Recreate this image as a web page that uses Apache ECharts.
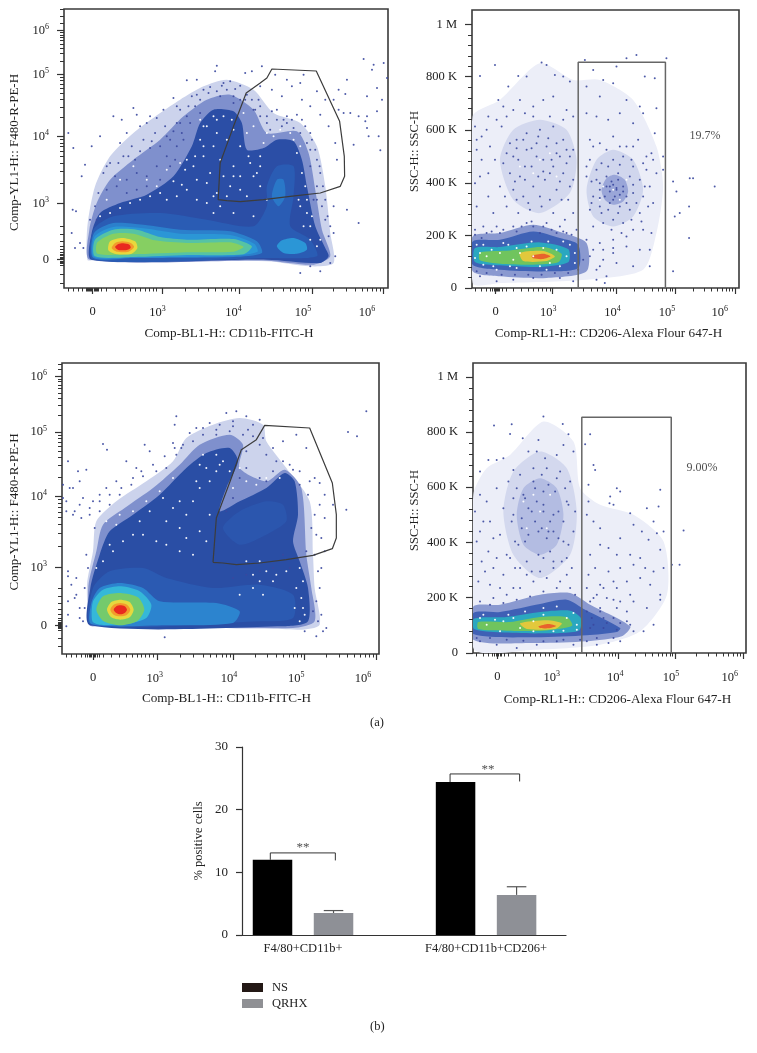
<!DOCTYPE html>
<html><head><meta charset="utf-8"><style>html,body{margin:0;background:#fff}#c{width:757px;height:1053px}</style>
<script src="https://cdn.jsdelivr.net/npm/echarts@6/dist/echarts.min.js"></script></head><body><div id="c"></div>
<script>
// Bar chart values
const groups=['F4/80+CD11b+','F4/80+CD11b+CD206+'];
const groupPos=[1,4];
const nsValues=[[0.5,12.0],[3.5,24.4]];
const qrhxValues=[[1.5,3.5],[4.5,6.4]];
const qrhxErrors=[[1.5,3.5,3.9],[4.5,6.4,7.7]];
const bracket1=[[0.464,12],[0.464,13.1],[1.53,13.1],[1.53,11.9]];
const bracket2=[[3.41,24.4],[3.41,25.7],[4.55,25.7],[4.55,24.5]];
const starMarks=[[1.0,13.9],[4.03,26.4]];
// Display-channel axes of each cytometry plot
const decadeLabels=['0','3','4','5','6'];
const ssLabels=['1 M','800 K','600 K','400 K','200 K','0'];
const xTickA=[278,485,716,935,1150], xLabA=[278,472,700,908,1100], yTickA=[93,225,410,612,780];
const xTickB=[287,457,650,827,1007], xLabB=[287,445,638,802,960], yTickB=[74,230,390,549,708,865];
const xTickC=[280,473,702,915,1130], xLabC=[280,465,688,890,1090], yTickC=[65,232,425,638,813];
const xTickD=[292,467,655,825,1030], xLabD=[292,455,645,812,988], yTickD=[66,231,397,563,729,895];
// Gates
const gateA=[[654,600],[660,490],[700,380],[738,280],[780,250],[800,235],[815,208],[948,214],[1018,365],[1032,470],[1033,530],[1020,560],[960,580],[870,590],[790,600],[720,606],[680,603],[654,600]];
const gateC=[[640,623],[650,490],[695,370],[725,285],[770,255],[795,212],[930,220],[998,385],[1010,480],[1010,550],[998,582],[940,602],[860,615],[780,625],[710,630],[670,625],[640,623]];
const gateB=[[535,865],[535,187],[797,187],[797,865]];
const gateD=[[545,895],[545,187],[813,187],[813,895]];
const pctB=[[916,407,'19.7%']], pctD=[[905,338,'9.00%']];
// Density contours: level colour, outline
const densA=[
['#ccd3ec',[[262,780],[262,680],[285,560],[330,470],[400,400],[480,340],[540,300],[610,260],[680,240],[760,270],[820,340],[900,370],[950,440],[975,560],[990,700],[1000,790],[930,800],[800,785],[280,782]]],
['#7f90cd',[[270,780],[268,690],[290,610],[330,540],[400,480],[480,420],[550,350],[620,300],[690,285],[760,330],[800,400],[890,395],[925,460],[945,570],[965,690],[990,770],[940,795],[800,783]]],
['#2b4ea6',[[275,780],[275,700],[300,640],[360,610],[440,585],[520,530],[575,440],[600,370],[640,330],[700,335],[725,370],[740,450],[790,445],[830,420],[880,425],[905,480],[920,560],[945,680],[975,745],[985,770],[960,790],[800,780]]],
['#2a5cb4',[[280,780],[280,690],[340,650],[480,640],[620,660],[760,680],[800,620],[800,560],[830,500],[880,500],[880,590],[870,680],[930,720],[950,770],[800,775]]],
['#2b80cc',[[280,775],[282,700],[340,670],[430,675],[540,690],[690,695],[770,725],[785,760],[700,772],[400,775]]],
['#2b96d6',[[282,772],[284,710],[340,682],[430,686],[540,702],[690,706],[762,732],[772,756],[700,768],[400,773]]],
['#2b96d6',[[830,740],[845,722],[880,715],[915,730],[920,750],[890,762],[850,760]]],
['#2a78c8',[[815,590],[830,540],[850,540],[855,590],[835,620]]],
['#56c3a4',[[285,770],[285,720],[340,690],[410,690],[480,712],[560,720],[700,718],[755,740],[730,764],[560,766],[400,772]]],
['#86cf62',[[292,762],[292,728],[340,702],[400,702],[465,722],[560,730],[690,728],[730,742],[700,756],[560,758],[400,764]]],
['#e9d83c',[[325,752],[330,725],[367,715],[405,725],[412,745],[395,762],[350,764]]],
['#f39a2c',[[335,745],[345,730],[367,725],[392,730],[402,742],[385,756],[350,756]]],
['#e9291f',[[345,742],[355,733],[370,731],[388,735],[392,744],[380,751],[355,751]]]];
const densC=[
['#ccd3ec',[[268,812],[262,690],[280,590],[290,500],[350,440],[440,380],[520,320],[560,250],[640,210],[720,190],[790,210],[800,260],[860,340],[930,440],[940,600],[945,700],[960,810],[900,825],[700,815],[280,815]]],
['#7f90cd',[[270,812],[266,695],[290,590],[310,510],[375,460],[460,400],[540,330],[600,270],[690,240],[730,270],[720,340],[800,380],[855,345],[905,400],[920,600],[935,700],[945,800],[880,820],[280,815]]],
['#2a4ea5',[[272,812],[272,700],[300,600],[330,530],[400,480],[480,420],[560,340],[620,295],[690,280],[715,320],[680,400],[660,470],[720,440],[800,400],[855,355],[885,380],[895,480],[880,560],[900,620],[925,700],[925,800],[850,815]]],
['#2b5ab2',[[275,810],[280,700],[330,650],[430,640],[500,670],[640,700],[780,690],[880,720],[880,790],[780,800]]],
['#2b56ae',[[670,520],[720,470],[800,440],[850,450],[860,500],[800,540],[720,570]]],
['#2c84cf',[[275,808],[275,745],[300,700],[360,685],[430,700],[480,740],[650,745],[720,770],[700,805],[500,812]]],
['#35b8d8',[[278,800],[280,740],[310,705],[365,695],[420,710],[455,750],[440,790],[380,808],[300,810]]],
['#74ca6c',[[290,765],[310,725],[362,715],[415,728],[434,765],[412,800],[362,812],[312,800]]],
['#e6d83e',[[322,765],[335,742],[362,735],[390,742],[402,765],[390,788],[362,795],[335,788]]],
['#f39a2c',[[332,765],[342,750],[362,745],[382,750],[392,765],[382,780],[362,785],[342,780]]],
['#e9291f',[[342,765],[350,755],[362,752],[375,755],[382,765],[375,775],[362,779],[350,775]]]];
const densB=[
['#eceef8',[[218,850],[218,350],[300,300],[420,190],[520,240],[600,240],[700,300],[770,440],[790,560],[770,700],[730,810],[560,840],[300,850]]],
['#d3d8ee',[[300,480],[340,390],[420,360],[500,390],[530,480],[510,580],[420,640],[340,600]]],
['#d0d6ed',[[560,570],[590,480],[640,450],[700,480],[730,570],[700,650],[640,680],[580,650]]],
['#9aa6d8',[[605,570],[620,535],[645,525],[675,540],[685,575],[670,605],[640,615],[615,600]]],
['#8a99d0',[[218,710],[300,700],[400,675],[490,700],[560,730],[560,815],[440,835],[300,830],[218,815]]],
['#3f62b6',[[218,725],[300,720],[400,695],[480,715],[535,735],[535,805],[440,815],[300,810],[218,795]]],
['#2aa7c0',[[225,745],[300,742],[420,728],[505,748],[505,788],[420,802],[300,797],[225,787]]],
['#70c45e',[[240,758],[330,752],[430,742],[485,762],[475,788],[400,795],[300,792],[240,782]]],
['#e2c83c',[[360,760],[430,754],[465,770],[440,784],[370,784]]],
['#e8622c',[[395,768],[430,762],[452,770],[430,778],[400,776]]]];
const densD=[
['#eceef8',[[220,880],[220,420],[260,340],[330,300],[430,200],[520,260],[540,400],[600,450],[700,480],[790,560],[800,720],[720,830],[600,870],[400,885]]],
['#d3d8ee',[[310,470],[340,350],[420,290],[500,340],[530,470],[510,600],[420,670],[340,600]]],
['#b3bce2',[[350,480],[370,400],[420,370],[470,400],[490,480],[470,570],[420,600],[370,570]]],
['#8a99d0',[[220,755],[300,750],[420,720],[510,715],[570,750],[690,815],[665,845],[560,860],[400,865],[220,855]]],
['#3f60b5',[[220,775],[300,772],[420,748],[500,735],[555,765],[660,820],[650,832],[560,842],[400,848],[220,838]]],
['#2aa7c0',[[222,792],[320,787],[420,772],[510,768],[542,790],[536,828],[420,836],[300,833],[222,823]]],
['#70c45e',[[235,802],[330,802],[420,787],[500,787],[516,813],[430,828],[320,828],[235,823]]],
['#e2c83c',[[360,806],[440,797],[485,806],[466,823],[380,823]]],
['#e8622c',[[415,815],[445,808],[468,814],[445,821],[420,820]]]];
// Individual events (x,y pairs)
const dotsA=[1090,178,1120,195,1115,210,1150,190,1160,235,1040,240,1035,283,1015,270,1130,265,1100,290,1145,300,1130,335,1075,350,1100,350,1095,365,1100,385,1135,410,1105,410,1140,452,1060,435,1015,330,1030,340,1050,340,205,400,220,445,218,630,228,635,245,530,255,495,275,440,300,410,340,350,365,360,400,325,410,345,440,370,470,355,520,295,530,320,560,242,590,240,650,198,645,215,690,245,670,250,755,215,785,200,735,220,720,258,240,730,225,745,250,745,215,700,1040,630,1075,670,1000,700,1005,770,990,790,960,815,930,800,
310,520,330,490,345,530,370,470,395,440,405,480,430,420,450,445,465,400,495,380,510,420,530,370,545,400,560,350,585,320,600,300,625,280,650,275,680,270,700,290,755,300,780,320,800,350,830,330,860,350,890,345,915,380,935,420,950,480,960,520,950,560,965,620,975,660,985,710,295,580,320,570,350,560,380,540,410,520,440,530,470,500,500,470,525,480,285,620,290,660,270,660,360,430,380,400,420,380,450,350,490,330,540,330,575,290,610,270,740,285,765,330,810,390,845,380,880,385,920,430,930,500,940,600,900,820,
760,330,780,350,800,370,830,360,860,370,900,400,930,450,950,600,720,300,700,310,660,290,600,340,570,370,550,420,530,440,510,500,480,540,440,560,410,570,380,580,
320,500,355,490,385,470,420,455,455,425,480,440,500,410,520,395,540,370,565,320,590,285,630,262,665,258,705,268,735,300,775,300,815,335,850,360,875,360,905,360,930,400,945,450,958,500,968,560,975,600,982,650,990,680,
1000,620,1010,480,1005,430,985,380,960,345,930,320,905,300,875,260,845,290,815,270,780,260,1000,300,975,300,950,275,900,250,860,240,825,225,910,225];
const whiteA=[620,380,650,400,680,420,700,390,640,440,610,470,660,480,700,500,630,520,590,540,560,570,530,590,500,600,620,610,650,580,690,560,720,530,750,490,770,520,780,470,740,400,760,380,800,400,840,390,870,400,600,420,585,470,555,510,520,545,480,580,450,590,420,600,390,610,360,625,330,640,640,640,700,640,760,650,900,620,920,640,930,680,910,680,895,600,905,520,880,420,820,410,790,430,730,340,670,350,640,350,610,380,560,480,545,555,590,600,660,620,680,590,740,590,780,560,800,600,930,720,950,740,915,560,
500,510,540,490,470,560,440,540,400,500,360,540,320,600,300,650,600,360,650,360,695,360,720,440,745,470,760,530,780,500,700,530,720,570,670,530,620,550,640,590,580,500,610,440,890,460,900,440,920,600,935,650,960,720];
const dotsC=[1100,170,1045,232,1072,245,1040,465,1000,450,960,385,975,420,310,268,322,285,205,320,190,390,210,400,235,350,260,345,240,380,200,440,225,470,245,490,205,665,230,670,205,740,230,720,205,780,240,790,200,815,495,848,530,185,525,210,435,270,450,290,380,320,410,340,350,380,320,400,300,420,280,440,520,265,550,270,590,220,630,205,660,210,680,175,710,170,740,185,780,195,760,210,700,200,
270,480,285,520,300,470,330,450,360,420,395,390,430,365,470,350,500,340,530,300,545,280,580,260,610,240,650,240,690,230,730,240,760,245,790,250,820,280,850,320,880,345,900,390,925,420,945,480,950,540,945,600,955,650,960,700,965,780,980,820,950,845,915,830,260,600,265,640,255,700,255,760,
740,290,780,270,800,300,830,320,870,330,900,350,930,380,960,450,935,520,920,590,740,340,780,370,820,350,720,370,700,430,800,380,680,470,850,600,870,640,820,640,780,650,740,660,700,670,
220,400,250,430,220,480,190,430,200,470,240,450,270,460,300,440,330,420,365,400,400,370,425,350,460,330,495,305,525,280,570,235,610,220,650,225,700,215,745,225,850,260,890,240,920,280,945,370,975,490,965,550,975,590,965,640,950,740,940,770,955,800,970,830,
205,650,215,690,225,730,240,760,250,800];
const whiteC=[650,350,630,380,600,400,580,440,560,480,540,520,560,550,600,530,630,480,620,560,580,600,540,590,500,570,470,560,430,540,400,540,370,560,340,590,300,470,320,500,290,470,720,340,740,380,770,390,700,400,800,370,840,370,760,660,780,680,800,650,830,660,760,700,790,720,900,640,910,680,905,730,915,780,900,800,720,720,690,350,660,330,520,370,490,430,450,470,420,500,600,330,610,300,650,300,
360,480,400,470,440,440,480,410,520,460,590,380,620,340,670,320,500,500,540,440,350,510,330,570,310,620,290,640,780,620,740,620,820,680,860,650,890,700,910,760,885,760];
const dotsB=[285,195,240,228,325,260,355,228,380,230,425,188,440,195,465,225,490,230,510,245,295,300,310,320,265,350,225,380,245,410,230,450,270,440,305,380,340,330,375,340,400,320,430,300,460,290,500,330,520,350,350,420,380,400,420,390,460,380,490,420,520,450,310,490,340,470,380,450,410,430,440,440,470,460,500,490,330,520,360,530,395,500,430,480,460,500,490,520,520,540,300,560,340,570,370,590,400,560,435,540,470,570,505,600,240,530,265,590,230,620,280,640,320,620,355,640,390,630,425,620,460,640,495,660,520,640,250,680,290,680,340,680,380,670,440,670,480,680,
555,180,580,210,610,240,650,200,680,175,710,165,735,230,765,235,800,175,560,260,600,290,640,250,680,300,720,320,770,325,560,340,590,350,625,360,660,340,700,370,730,340,765,400,570,420,600,430,640,410,680,440,715,420,755,460,790,470,570,480,605,490,640,480,670,470,700,500,740,510,770,520,790,510,560,530,590,540,620,530,655,520,690,530,720,540,750,560,580,590,600,570,630,560,650,570,670,575,700,580,730,590,760,610,570,630,600,620,630,610,660,620,690,630,720,640,580,680,610,670,640,660,670,670,700,690,730,690,755,700,560,720,600,730,640,720,680,740,720,750,750,750,570,770,610,780,650,790,700,800,750,800,590,810,620,830,
640,555,650,565,630,575,660,585,645,590,620,560,670,560,655,540,635,545,615,590,680,590,640,600,
820,545,830,575,870,535,880,535,945,560,840,640,825,650,868,620,868,715,820,815,
240,830,290,845,340,840,400,835,480,835,520,845,260,700,300,700,350,695,400,680,420,700,470,700,225,690,500,700,530,690,
590,840,615,850,
330,430,350,445,370,420,395,445,415,410,445,415,470,430,500,450,320,460,355,480,375,500,410,470,430,515,455,480,480,470,510,470,345,545,375,540,415,530,450,520,480,545,510,560,315,590,350,600,385,610,420,590,450,600,485,600,
225,550,245,480,265,520,285,480,230,420,260,390,290,360,320,350,360,300,400,350,450,350,490,360,
580,440,620,450,660,440,700,440,740,470,560,500,590,510,625,500,660,495,695,480,730,490,760,480,575,545,600,550,700,555,735,560,575,610,600,595,625,630,655,640,680,610,710,610,745,620,
605,640,635,690,665,700,695,660,725,665,640,745,680,710,610,750,580,750,550,780,600,800,640,760,
225,705,245,715,275,695,310,690,365,680,395,665,430,680,455,690,490,695,515,705,230,815,260,820,305,825,345,825,385,825,425,825,465,820,505,820,535,810];
const whiteB=[260,770,300,760,340,780,380,740,420,800,470,750,500,770,280,800,330,800,400,770,450,790,430,745,240,760,360,760,310,730,510,735,640,570,610,560,660,600,600,600,680,540,420,480,400,520,450,460,470,530,360,500,
250,735,275,750,325,735,350,745,395,725,445,725,490,725,525,760,525,790,480,800,440,810,350,805,290,810,250,795,225,775,230,735];
const dotsD=[282,212,335,208,330,237,368,250,430,185,415,255,488,207,505,238,240,350,265,315,290,315,310,310,340,345,385,290,410,290,435,310,470,300,490,270,520,290,555,268,570,238,580,330,585,345,240,420,225,470,260,440,290,400,325,380,360,360,400,340,440,340,480,350,510,380,240,530,270,500,310,460,340,430,370,420,405,400,430,410,465,410,500,440,525,470,230,560,265,590,300,540,335,500,365,490,395,470,430,470,460,480,490,500,520,530,245,620,280,640,320,600,355,570,385,540,415,530,445,530,475,550,505,570,235,680,270,690,310,660,345,640,380,620,415,600,450,590,485,620,515,640,280,730,320,720,360,700,400,680,440,670,480,680,510,700,
565,390,565,440,560,480,580,500,600,520,630,425,650,400,660,410,628,445,640,450,690,475,700,510,660,550,600,570,570,600,625,580,650,600,690,600,720,610,760,500,780,405,775,455,740,460,725,530,745,555,770,535,790,530,850,527,780,585,815,630,838,630,760,650,790,640,735,640,700,630,660,640,625,650,585,640,565,660,600,690,640,680,680,680,720,670,750,690,590,720,620,730,660,740,700,740,740,760,780,735,780,720,560,770,600,770,640,790,680,800,700,830,730,830,760,810,570,820,610,820,650,825,
240,860,290,870,350,880,410,870,470,860,520,870,560,860,590,870,625,865,660,860,
350,400,375,430,400,380,425,360,445,390,470,370,495,400,340,480,365,520,385,460,410,440,430,450,450,500,475,470,505,450,345,560,375,560,405,500,425,520,440,550,460,530,490,560,330,610,360,640,395,650,430,610,460,620,500,610,
250,500,280,550,255,650,290,610,300,700,340,700,380,660,420,650,460,640,500,660,525,720,240,740,270,750,310,745,350,735,390,725,430,710,470,700,
560,700,580,730,610,700,650,700,690,720,575,790,610,790,650,760,680,770,570,740,600,760,640,735,580,810,620,805,660,805,690,810,
230,850,270,850,320,855,370,858,430,860,490,855,540,855,590,850,640,850];
const whiteD=[260,810,310,800,360,820,400,800,460,830,500,790,530,810,240,790,340,790,430,780,420,470,380,520,450,420,400,420,440,520,370,440,
250,780,285,795,325,780,375,770,430,760,470,755,520,775,530,825,490,828,400,830,300,830];
const dotColor='#3a489e';

function logTicks(t){const r=[];for(let i=1;i<t.length-1;i++){const a=t[i],b=t[i+1];for(const k of [2,3,4,5,6,7,8,9])r.push(Math.round(a+(b-a)*Math.log10(k)));}return r;}
function linTicks(t){const r=[];for(let i=0;i<t.length-1;i++){const a=t[i],b=t[i+1];for(const k of [1,2,3,4])r.push(Math.round(a+(b-a)*k/5));}return r;}
function pairs(f){const r=[];for(let i=0;i<f.length;i+=2)r.push([f[i],f[i+1]]);return r;}
const serif="'Liberation Serif','Times New Roman',serif";
const panels=[
{g:[64,9,324,279],xr:[192,1163],yr:[28,865],xT:xTickA,xL:xLabA,yT:yTickA,log:1,xn:'Comp-BL1-H:: CD11b-FITC-H',yn:'Comp-YL1-H:: F480-R-PE-H',dens:densA,gate:gateA,dots:dotsA,white:whiteA,shift:6,nameGapY:43,nameGapX:39,ySize:13,yShift:8,
 xExtra:[205,220,235,248,258,263,266,269,272,275,278,282,285,288,292,295,305,320,345,370,390,405,420,435,447,458,468],yExtra:[28,50,70,680,705,725,740,750,758,764,768,772,776,780,784,788,792,798,825,850]},
{g:[472,10,267,278],xr:[216,1018],yr:[30,865],xT:xTickB,xL:xLabB,yT:yTickB,log:0,xn:'Comp-RL1-H:: CD206-Alexa Flour 647-H',yn:'SSC-H:: SSC-H',dens:densB,gate:gateB,dots:dotsB,white:whiteB,pct:pctB,shift:6,nameGapY:51,nameGapX:39,ySize:12.5,yShift:5,
 xExtra:[225,245,260,272,278,282,285,288,291,294,298,308,320,340,365,385,400,415,428,440,450],yExtra:[]},
{g:[62,363,317,291],xr:[187,1138],yr:[25,898],xT:xTickC,xL:xLabC,yT:yTickC,log:1,xn:'Comp-BL1-H:: CD11b-FITC-H',yn:'Comp-YL1-H:: F480-R-PE-H',dens:densC,gate:gateC,dots:dotsC,white:whiteC,shift:12,nameGapY:41,nameGapX:38,ySize:13,yShift:7,
 xExtra:[200,215,230,245,258,264,268,272,276,280,284,288,292,300,310,335,360,380,398,412,425,438,450,462],yExtra:[30,45,700,725,745,765,780,790,797,802,806,810,814,818,822,828,850,875]},
{g:[473,363,273,290],xr:[219,1037],yr:[24,895],xT:xTickD,xL:xLabD,yT:yTickD,log:0,xn:'Comp-RL1-H:: CD206-Alexa Flour 647-H',yn:'SSC-H:: SSC-H',dens:densD,gate:gateD,dots:dotsD,white:whiteD,pct:pctD,shift:16,nameGapY:52,nameGapX:40,ySize:12.5,yShift:5,
 xExtra:[230,250,265,278,284,288,292,296,300,304,312,325,345,370,390,405,420,435,447,458],yExtra:[]}];

const grid=[],xAxis=[],yAxis=[],series=[];
panels.forEach((p,i)=>{
 grid.push({left:p.g[0],top:p.g[1],width:p.g[2],height:p.g[3],show:true,borderColor:'#3a3a3a',borderWidth:1.6,backgroundColor:'#fff'});
 const xLab={};p.xL.forEach((v,k)=>xLab[v]=decadeLabels[k]);
 const yLab={};p.yT.forEach((v,k)=>yLab[v]=p.log?decadeLabels[decadeLabels.length-1-k]:ssLabels[k]);
 const rich={b:{fontFamily:serif,fontSize:12.5,color:'#222'},s:{fontFamily:serif,fontSize:8,color:'#222',padding:[0,0,7,0]}};
 const fmt=s=>s==='0'?'{b|0}':'{b|10}{s|'+s+'}';
 xAxis.push({type:'value',gridIndex:i,position:'bottom',min:p.xr[0],max:p.xr[1],splitLine:{show:false},axisLine:{show:false},
  axisTick:{show:true,length:6,lineStyle:{color:'#333',width:1.2},customValues:p.xT},
  axisLabel:{customValues:p.xL,margin:17,rich,formatter:v=>fmt(xLab[v])},
  name:p.xn,nameLocation:'middle',nameGap:p.nameGapX,nameTextStyle:{fontFamily:serif,fontSize:13.2,color:'#222',padding:[0,0,0,p.shift]}});
 xAxis.push({type:'value',gridIndex:i,position:'bottom',min:p.xr[0],max:p.xr[1],splitLine:{show:false},axisLine:{show:false},axisLabel:{show:false},
  axisTick:{show:true,length:3.5,lineStyle:{color:'#333',width:1},customValues:p.xExtra.concat(logTicks(p.xT))}});
 yAxis.push({type:'value',gridIndex:i,position:'left',inverse:true,min:p.yr[0],max:p.yr[1],splitLine:{show:false},axisLine:{show:false},
  axisTick:{show:true,length:7,lineStyle:{color:'#333',width:1.2},customValues:p.yT},
  axisLabel:{customValues:p.yT,margin:15,rich,fontFamily:serif,fontSize:12.5,color:'#222',formatter:v=>p.log?fmt(yLab[v]):yLab[v]},
  name:p.yn,nameLocation:'middle',nameGap:p.nameGapY,nameTextStyle:{fontFamily:serif,fontSize:p.ySize,color:'#222',padding:[0,p.yShift,0,0]}});
 yAxis.push({type:'value',gridIndex:i,position:'left',inverse:true,min:p.yr[0],max:p.yr[1],splitLine:{show:false},axisLine:{show:false},axisLabel:{show:false},
  axisTick:{show:true,length:4,lineStyle:{color:'#333',width:1},customValues:p.log?p.yExtra.concat((()=>{const r=[];for(let k=0;k<3;k++){const a=p.yT[k+1],b=p.yT[k];for(const m of [2,3,4,5,6,7,8,9])r.push(Math.round(a+(b-a)*Math.log10(m)));}return r;})()):linTicks(p.yT)}});
 const ax={xAxisIndex:2*i,yAxisIndex:2*i};
 series.push({type:'custom',...ax,silent:true,z:2,data:p.dens.map((d,k)=>[k]),clip:true,
  renderItem:(params,api)=>{const d=p.dens[params.dataIndex];
   return {type:'polygon',shape:{points:d[1].map(q=>api.coord(q)),smooth:0.25},style:{fill:d[0]}};}});
 series.push({type:'scatter',...ax,silent:true,z:3,symbolSize:2,itemStyle:{color:'#ffffff',opacity:.95},data:pairs(p.white)});
 series.push({type:'scatter',...ax,silent:true,z:4,symbolSize:2,itemStyle:{color:dotColor,opacity:.9},data:pairs(p.dots)});
 series.push({type:'line',...ax,silent:true,z:5,symbol:'none',lineStyle:{color:p.log?'#3c3c3c':'#666',width:p.log?1.2:1.5},data:p.gate});
 if(p.pct)series.push({type:'scatter',...ax,silent:true,z:6,symbolSize:0,data:p.pct,
  label:{show:true,position:'inside',formatter:o=>o.value[2],fontFamily:serif,fontSize:12,color:'#222'}});
});
// Bar chart
grid.push({left:242,top:747,width:324,height:188});
xAxis.push({type:'value',gridIndex:4,min:0,max:5.31,splitLine:{show:false},axisLine:{show:true,onZero:false,lineStyle:{color:'#333',width:1.2}},axisTick:{show:false},
 axisLabel:{customValues:groupPos,margin:7,fontFamily:serif,fontSize:12.5,color:'#222',formatter:v=>groups[groupPos.indexOf(v)]}});
yAxis.push({type:'value',gridIndex:4,min:0,max:30,interval:10,splitLine:{show:false},axisLine:{show:true,lineStyle:{color:'#333',width:1.2}},
 axisTick:{length:6,lineStyle:{color:'#333',width:1.2}},axisLabel:{margin:14,fontFamily:serif,fontSize:13,color:'#222'},
 name:'% positive cells',nameLocation:'middle',nameGap:37,nameTextStyle:{fontFamily:serif,fontSize:12.5,color:'#222'}});
const bx={xAxisIndex:8,yAxisIndex:8};
series.push({type:'bar',name:'NS',...bx,barWidth:39.5,barGap:'-100%',itemStyle:{color:'#000'},data:nsValues});
series.push({type:'bar',name:'QRHX',...bx,barWidth:39.5,barGap:'-100%',itemStyle:{color:'#8e9096'},data:qrhxValues});
series.push({type:'custom',...bx,silent:true,z:1,data:qrhxErrors,renderItem:(params,api)=>{
 const x=api.value(0),lo=api.value(1),hi=api.value(2);
 const a=api.coord([x,lo]),b=api.coord([x,hi]),c1=api.coord([x-0.16,hi]),c2=api.coord([x+0.16,hi]);
 const st={stroke:'#555',lineWidth:1.2,fill:'none'};
 return {type:'group',children:[{type:'line',shape:{x1:a[0],y1:a[1],x2:b[0],y2:b[1]},style:st},{type:'line',shape:{x1:c1[0],y1:c1[1],x2:c2[0],y2:c2[1]},style:st}]};}});
[bracket1,bracket2].forEach(b=>series.push({type:'line',...bx,silent:true,symbol:'none',lineStyle:{color:'#333',width:1},data:b}));
series.push({type:'scatter',...bx,silent:true,symbolSize:0,data:starMarks,label:{show:true,position:'inside',formatter:'**',fontFamily:serif,fontSize:13,color:'#222'}});

const chart=echarts.init(document.getElementById('c'),null,{renderer:'canvas'});
chart.setOption({animation:false,backgroundColor:'#fff',grid,xAxis,yAxis,series,
 legend:{orient:'vertical',left:237,top:976,itemWidth:21,itemHeight:9,itemGap:3,icon:'rect',textStyle:{fontFamily:serif,fontSize:12.5,color:'#222',padding:[0,0,0,4]},
  data:[{name:'NS',itemStyle:{color:'#231815'}},{name:'QRHX',itemStyle:{color:'#8f9094'}}]},
 title:[{text:'(a)',left:370,top:716,textStyle:{fontFamily:serif,fontSize:12.5,fontWeight:'normal',color:'#222'},padding:0},
        {text:'(b)',left:370,top:1020,textStyle:{fontFamily:serif,fontSize:12.5,fontWeight:'normal',color:'#222'},padding:0}]});
</script></body></html>
